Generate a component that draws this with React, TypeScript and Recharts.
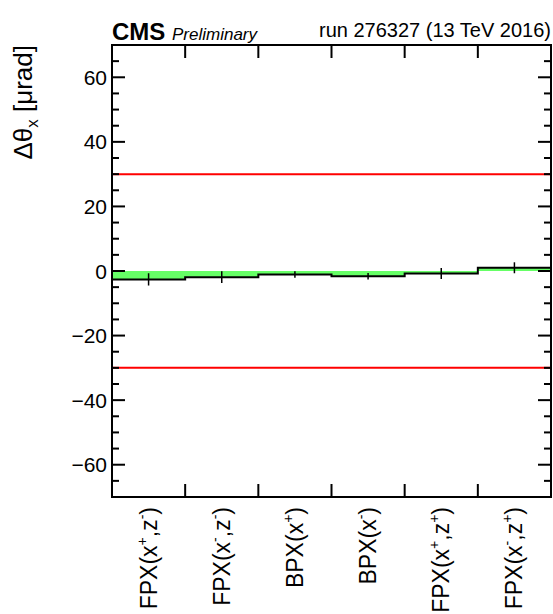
// Alignment monitor: Δθx per pixel structure, run 276327
import { ComposedChart, XAxis, YAxis, Area, Line, Scatter, ErrorBar, ReferenceLine } from "recharts";

const FONT = '"Liberation Sans", Arial, Helvetica, sans-serif';
// plot frame (px)
const LEFT = 112;
const TOP = 45;
const PLOT_W = 439;
const PLOT_H = 452;

// bin contents (μrad)
const detectors = ["FPX", "FPX", "BPX", "BPX", "FPX", "FPX"];
const xSigns = ["+", "-", "+", "-", "+", "-"];
const zSigns = ["-", "-", "", "", "+", "+"];
const binValues = [-2.6, -1.9, -1.1, -1.6, -0.8, 1.0];
const binErrors = [1.9, 1.8, 1.0, 1.0, 1.7, 1.7];
const limits = [30, -30];

const yTicks = [-70, -65, -60, -55, -50, -45, -40, -35, -30, -25, -20, -15, -10, -5, 0, 5, 10, 15, 20, 25, 30, 35, 40, 45, 50, 55, 60, 65, 70];
const xEdges = [0, 1, 2, 3, 4, 5, 6];
const xCenters = [0.5, 1.5, 2.5, 3.5, 4.5, 5.5];
const Y_MIN = -70;
const Y_MAX = 70;

// step histogram: one point per bin edge, last bin repeated to close the step
const histData = xEdges.map((x, i) => ({ x, v: binValues[Math.min(i, binValues.length - 1)] }));
const pointData = xCenters.map((x, i) => ({ x, y: binValues[i], err: binErrors[i] }));

const fmt = (v: number) => (v < 0 ? "\u2212" + Math.abs(v) : String(v));
const tickLen = (v: number) => (v % 20 === 0 ? 13 : 7);

function YTick(props: any) {
  const { x, y, payload } = props;
  const v = payload.value;
  return (
    <g>
      <line x1={x} y1={y} x2={x + tickLen(v)} y2={y} stroke="#000" strokeWidth={2} />
      {v % 20 === 0 && (
        <text x={x - 5} y={y} textAnchor="end" dominantBaseline="central" fontSize={21} fontFamily={FONT} fill="#000">
          {fmt(v)}
        </text>
      )}
    </g>
  );
}

// bin edges get ticks, bin centres get the rotated labels
function XTick(props: any) {
  const { x, y, payload } = props;
  const v = payload.value;
  if (Number.isInteger(v)) {
    if (v === 0 || v === 6) return <g />;
    return <line x1={x} y1={y} x2={x} y2={y - 13} stroke="#000" strokeWidth={2} />;
  }
  const i = Math.floor(v);
  return (
    <text
      transform={`translate(${x},${y + 10}) rotate(-90)`}
      x={0}
      y={8}
      textAnchor="end"
      fontSize={23}
      fontFamily={FONT}
      fill="#000"
    >
      {detectors[i]}(x
      <tspan dy={-10} fontSize={14}>{xSigns[i]}</tspan>
      <tspan dy={10}>{zSigns[i] ? ",z" : ")"}</tspan>
      {zSigns[i] && <tspan dy={-10} fontSize={14}>{zSigns[i]}</tspan>}
      {zSigns[i] && <tspan dy={10}>)</tspan>}
    </text>
  );
}

export default function App() {
  const yPix = (v: number) => TOP + ((Y_MAX - v) / (Y_MAX - Y_MIN)) * PLOT_H;
  const xPix = (e: number) => LEFT + (e / 6) * PLOT_W;
  return (
    <div style={{ position: "absolute", left: 0, top: 0, width: 553, height: 614, background: "#fff" }}>
      <ComposedChart width={553} height={614} data={histData} margin={{ top: TOP, right: 553 - LEFT - PLOT_W, bottom: 614 - TOP - PLOT_H - 1, left: LEFT - 1 }}>
        <XAxis
          xAxisId="b"
          dataKey="x"
          type="number"
          domain={[0, 6]}
          ticks={[0, 0.5, 1, 1.5, 2, 2.5, 3, 3.5, 4, 4.5, 5, 5.5, 6]}
          interval={0}
          height={1}
          tickSize={0}
          tickMargin={0}
          tickLine={false}
          axisLine={false}
          tick={XTick}
        />
        <YAxis
          yAxisId="l"
          type="number"
          domain={[Y_MIN, Y_MAX]}
          allowDataOverflow
          ticks={yTicks}
          interval={0}
          width={1}
          tickSize={0}
          tickMargin={0}
          tickLine={false}
          axisLine={false}
          tick={YTick}
        />
        <Scatter
          xAxisId="b"
          yAxisId="l"
          data={pointData}
          dataKey="y"
          shape={() => <g />}
          isAnimationActive={false}
        >
          <ErrorBar dataKey="err" direction="y" width={0} stroke="#000" strokeWidth={1.5} isAnimationActive={false} />
        </Scatter>
        <Area
          xAxisId="b"
          yAxisId="l"
          type="stepAfter"
          dataKey="v"
          baseValue={0}
          stroke="none"
          fill="#66ff66"
          fillOpacity={1}
          isAnimationActive={false}
        />
        <Line
          xAxisId="b"
          yAxisId="l"
          type="stepAfter"
          dataKey="v"
          stroke="#000"
          strokeWidth={2}
          dot={false}
          isAnimationActive={false}
        />
        {limits.map((l) => (
          <ReferenceLine key={l} xAxisId="b" yAxisId="l" y={l} stroke="#ff0000" strokeWidth={2} ifOverflow="visible" />
        ))}
      </ComposedChart>
      <svg width={553} height={614} style={{ position: "absolute", left: 0, top: 0, pointerEvents: "none" }}>
        <rect x={LEFT} y={TOP} width={PLOT_W} height={PLOT_H} fill="none" stroke="#000" strokeWidth={2} />
        {/* mirrored ticks on the right and top frame edges */}
        {yTicks.map((v) => (
          <line key={"r" + v} x1={LEFT + PLOT_W} x2={LEFT + PLOT_W - tickLen(v)} y1={yPix(v)} y2={yPix(v)} stroke="#000" strokeWidth={2} />
        ))}
        {xEdges.slice(1, -1).map((e) => (
          <line key={"t" + e} x1={xPix(e)} x2={xPix(e)} y1={TOP} y2={TOP + 13} stroke="#000" strokeWidth={2} />
        ))}
        <text x={112} y={40} fontSize={24} fontWeight="bold" fontFamily={FONT} fill="#000">CMS</text>
        <text x={172} y={40} fontSize={17} fontStyle="italic" fontFamily={FONT} fill="#000">Preliminary</text>
        <text x={551} y={37} fontSize={20} textAnchor="end" fontFamily={FONT} fill="#000">run 276327 (13 TeV 2016)</text>
        <text transform="translate(32,45) rotate(-90)" textAnchor="end" fontSize={26} fontFamily={FONT} fill="#000">
          Δθ<tspan dy={6} fontSize={17}>x</tspan>
          <tspan dy={-6}> [μrad]</tspan>
        </text>
      </svg>
    </div>
  );
}
